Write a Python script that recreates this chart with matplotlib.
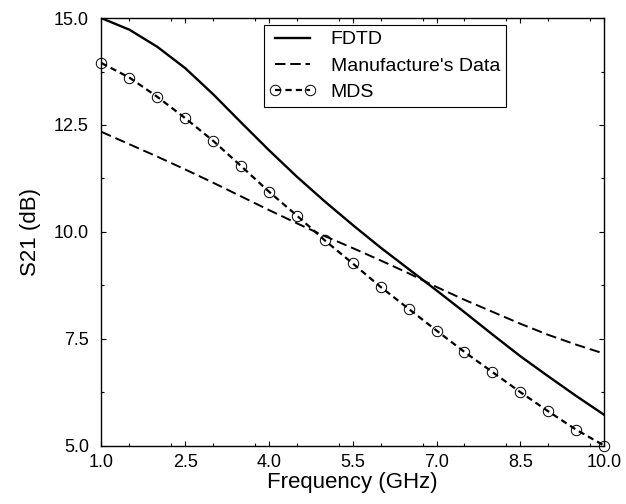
"""S21 vs frequency: FDTD, manufacturer data and MDS."""

import matplotlib
matplotlib.use("Agg")
import matplotlib.pyplot as plt
import matplotlib.ticker as mticker

plt.rcParams["font.family"] = ["Liberation Sans", "DejaVu Sans"]
plt.rcParams["lines.scale_dashes"] = False

# Valores
freq = [1.0, 1.5, 2.0, 2.5, 3.0, 3.5, 4.0, 4.5, 5.0, 5.5,
        6.0, 6.5, 7.0, 7.5, 8.0, 8.5, 9.0, 9.5, 10.0]
s21_fdtd = [15.0, 14.73, 14.33, 13.83, 13.22, 12.56, 11.91, 11.29, 10.71, 10.16,
            9.63, 9.13, 8.63, 8.12, 7.6, 7.09, 6.62, 6.16, 5.72]
s21_fabricante = [12.34, 12.05, 11.76, 11.46, 11.15, 10.83, 10.51, 10.2, 9.90, 9.62,
                  9.33, 9.03, 8.71, 8.41, 8.13, 7.85, 7.59, 7.36, 7.15]
s21_mds = [13.95, 13.61, 13.16, 12.66, 12.13, 11.54, 10.94, 10.38, 9.80, 9.26,
           8.71, 8.20, 7.69, 7.19, 6.72, 6.25, 5.80, 5.37, 5.0]

xticks = [1.0, 2.5, 4.0, 5.5, 7.0, 8.5, 10.0]
yticks = [5.0, 7.5, 10.0, 12.5, 15.0]

fig = plt.figure(figsize=(6.26, 5.04), dpi=100)
ax = fig.add_axes([0.162, 0.116, 0.803, 0.848])

ax.plot(freq, s21_fdtd, color="black", linewidth=1.7, label="FDTD")
ax.plot(freq, s21_fabricante, color="black", linewidth=1.4,
        linestyle=(0, (7.5, 3.5)), label="Manufacture's Data")
ax.plot(freq, s21_mds, color="black", linewidth=1.6,
        linestyle=(0, (4.5, 3.0)), marker="o", markersize=7.5,
        markerfacecolor="none", markeredgecolor="black", markeredgewidth=0.7,
        label="MDS", clip_on=False)

ax.set_xlim(1.0, 10.0)
ax.set_ylim(5.0, 15.0)
ax.set_xticks(xticks)
ax.set_yticks(yticks)
ax.xaxis.set_minor_locator(mticker.MultipleLocator(0.75))
ax.yaxis.set_minor_locator(mticker.MultipleLocator(1.25))
ax.xaxis.set_major_formatter(mticker.FormatStrFormatter("%.1f"))
ax.yaxis.set_major_formatter(mticker.FormatStrFormatter("%.1f"))
ax.tick_params(which="both", direction="in", top=True, right=True,
               width=0.8, labelsize=13)
ax.tick_params(which="major", length=3.5)
ax.tick_params(which="minor", length=2.5)
ax.tick_params(axis="y", pad=9)
ax.tick_params(axis="x", pad=6)
for spine in ax.spines.values():
    spine.set_linewidth(1.0)

ax.set_xlabel("Frequency (GHz)", fontsize=16, labelpad=1)
ax.set_ylabel("S21 (dB)", fontsize=16, labelpad=9)

leg = ax.legend(loc="upper left", bbox_to_anchor=(0.323, 0.984), borderaxespad=0,
                fontsize=14, fancybox=False, framealpha=1, edgecolor="black",
                handlelength=2.4, handletextpad=0.75, labelspacing=0.45,
                borderpad=0.3, numpoints=2)
leg.get_frame().set_linewidth(0.8)

fig.savefig("out.png", dpi=100)
